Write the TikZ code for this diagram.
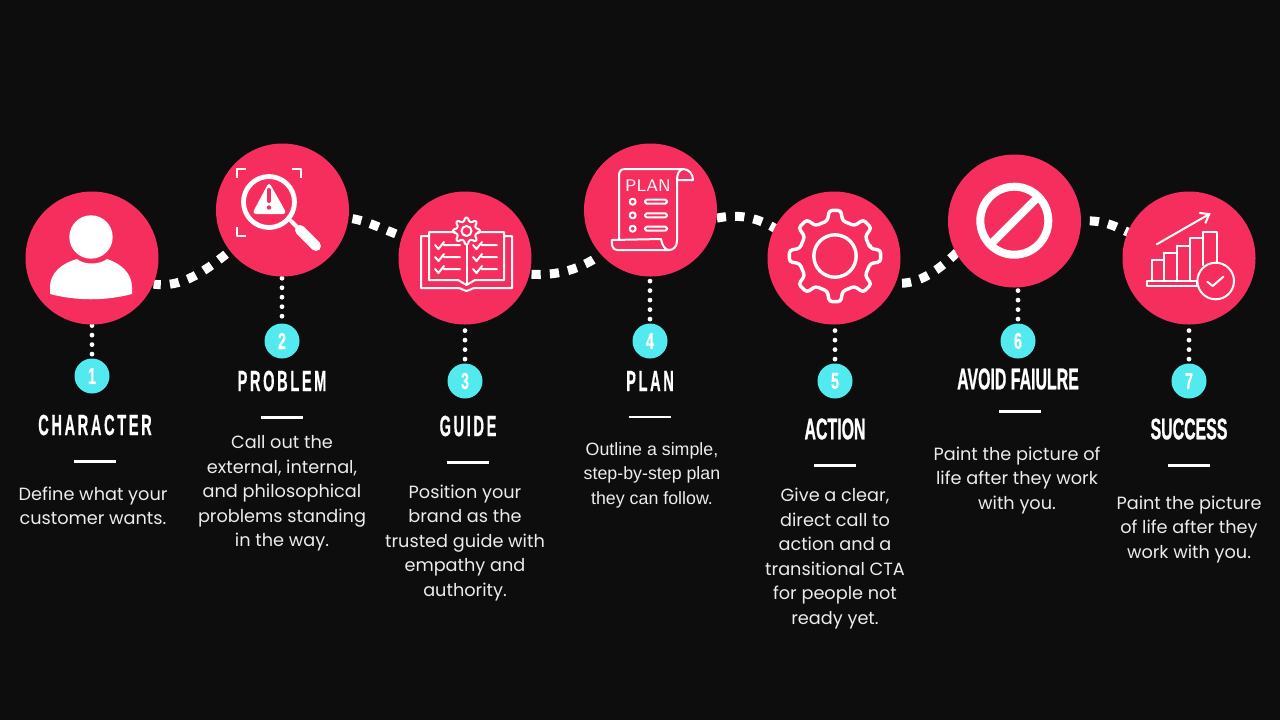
\documentclass[tikz,border=0pt]{standalone}
\usepackage{fontspec}
\usepackage{tikz}
\usetikzlibrary{positioning, arrows.meta, calc}
\setmainfont{Poppins}
\newfontfamily\headfont[FakeStretch=0.5,LetterSpace=9,FakeBold=0.4]{Liberation Sans}
\newfontfamily\plainheadfont[FakeStretch=0.53,FakeBold=0.7]{Liberation Sans}
\newfontfamily\digitfont[FakeStretch=0.62,FakeBold=0.7]{Liberation Sans}
\newfontfamily\planfont{Liberation Sans}
\definecolor{pagebg}{HTML}{0D0D0D}
\definecolor{stepred}{HTML}{F52E5D}
\definecolor{badgecyan}{HTML}{52E9EF}
\definecolor{bodywhite}{HTML}{ECECEC}
\pgfdeclarelayer{paper}
\pgfdeclarelayer{links}
\pgfsetlayers{paper,links,main}
\tikzset{
  stepdisc/.style={circle, minimum size=66.5pt, inner sep=0pt, fill=stepred},
  badge/.style={circle, minimum size=17.5pt, inner sep=0pt, fill=badgecyan, text=white, font=\digitfont\fontsize{11.5}{12}\bfseries\selectfont},
  heading/.style={inner sep=0pt, text=white, font=\headfont\fontsize{14.6}{14}\bfseries\selectfont},
  headrule/.style={rectangle, minimum width=21pt, minimum height=1.25pt, inner sep=0pt, fill=white},
  bodytext/.style={inner sep=0pt, text=bodywhite, align=center, font=\fontsize{8.85}{12.25}\selectfont, execute at begin node=\strut},
  wavy/.style={draw=white, line width=4.5pt, dash pattern=on 4.6pt off 4.6pt, shorten >=-4pt},
  dots/.style={draw=white, line width=2.4pt, line cap=round, dash pattern=on 0pt off 4.75pt, dash phase=2.75pt},
  iconline/.style={draw=white, line width=1pt, line join=round, line cap=round},
  iconsolid/.style={fill=white, draw=none}
}
% teeth of a gear: count, inner radius, outer radius, line width, corners
\newcommand{\gearteeth}[5]{
  \pgfmathsetmacro{\gearstep}{360/#1}
  \draw[iconline, line width=#4, rounded corners=#5] (-0.27*\gearstep:#2)
    \foreach \tooth in {1,...,#1}{
      -- ({(\tooth-1)*\gearstep-0.16*\gearstep}:#3) -- ({(\tooth-1)*\gearstep+0.16*\gearstep}:#3)
      -- ({(\tooth-1)*\gearstep+0.27*\gearstep}:#2) -- ({\tooth*\gearstep-0.27*\gearstep}:#2)
    } -- cycle;
}

\begin{document}
\begin{tikzpicture}[x=0.5pt, y=-0.5pt]
  \begin{pgfonlayer}{paper}
    \fill[pagebg] (0,0) rectangle (1280,720);
  \end{pgfonlayer}
  \useasboundingbox (0,0) rectangle (1280,720);

  % the seven discs
  \node (step1) [stepdisc] at (92,258) {};
  \node (step2) [stepdisc] at (282.5,210) {};
  \node (step3) [stepdisc] at (465,258) {};
  \node (step4) [stepdisc] at (650.5,210) {};
  \node (step5) [stepdisc] at (834,258) {};
  \node (step6) [stepdisc] at (1014.5,221) {};
  \node (step7) [stepdisc] at (1189,258) {};

  % number badges
  \node (badge1) [badge] at (92,376) {1};
  \node (badge2) [badge] at (282,341) {2};
  \node (badge3) [badge] at (465,381) {3};
  \node (badge4) [badge] at (650,341) {4};
  \node (badge5) [badge] at (835,381) {5};
  \node (badge6) [badge] at (1018,341) {6};
  \node (badge7) [badge] at (1189,381) {7};

  % headings, rules and texts
  \node (head1) [heading] at (95,425) {CHARACTER};
  \node (rule1) [headrule, below=12pt of head1] {};
  \node (text1) [bodytext, below=11.7pt of rule1, xshift=-1pt] {Define what your\\customer wants.};

  \node (head2) [heading] at (282,381) {PROBLEM};
  \node (rule2) [headrule, below=12pt of head2] {};
  \node (text2) [bodytext, below=8.2pt of rule2] {Call out the\\external, internal,\\and philosophical\\problems standing\\in the way.};

  \node (head3) [heading] at (468,426) {GUIDE};
  \node (rule3) [headrule, below=12pt of head3] {};
  \node (text3) [bodytext, below=10.2pt of rule3, xshift=-1.5pt] {Position your\\brand as the\\trusted guide with\\empathy and\\authority.};

  \node (head4) [heading] at (650,381) {PLAN};
  \node (rule4) [headrule, below=12pt of head4] {};
  \node (text4) [bodytext, below=11.6pt of rule4, xshift=1pt, font=\planfont\fontsize{8.9}{12.25}\selectfont] {Outline a simple,\\step-by-step plan\\they can follow.};

  \node (head5) [heading, font=\plainheadfont\fontsize{15}{15}\bfseries\selectfont] at (835,429) {ACTION};
  \node (rule5) [headrule, below=12pt of head5] {};
  \node (text5) [bodytext, below=10.2pt of rule5] {Give a clear,\\direct call to\\action and a\\transitional CTA\\for people not\\ready yet.};

  \node (head6) [heading, font=\plainheadfont\fontsize{15}{15}\bfseries\selectfont] at (1018,379) {AVOID FAIULRE};
  \node (rule6) [headrule, below=10pt of head6, xshift=1pt] {};
  \node (text6) [bodytext, below=16.6pt of rule6, xshift=-1.5pt] {Paint the picture of\\life after they work\\with you.};

  \node (head7) [heading, font=\plainheadfont\fontsize{15}{15}\bfseries\selectfont] at (1189,429) {SUCCESS};
  \node (rule7) [headrule, below=12pt of head7] {};
  \node (text7) [bodytext, below=14pt of rule7] {Paint the picture\\of life after they\\work with you.};

  % connectors, under the discs
  \begin{pgfonlayer}{links}
    \draw[wavy, dash phase=1pt] (step1.-23) .. controls +(28,4) and +(-25,21) .. (step2.218);
    \draw[wavy, dash phase=7.4pt] (step2.-7) .. controls +(18,2) and +(-18,-6) .. (step3.161);
    \draw[wavy, dash phase=8.4pt, shorten >=0pt] (step3.-14) .. controls +(28,2) and +(-20,14) .. (step4.222);
    \draw[wavy] (step4.-7) .. controls +(19,-4) and +(-17,-12) .. (step5.153);
    \draw[wavy, dash phase=6.2pt] (step5.-22) .. controls +(22,2) and +(-18,18) .. (step6.209);
    \draw[wavy, dash phase=5pt] (step6.0) .. controls +(20,-1) and +(-16,-8) .. (step7.157);

    \draw[dots] (badge1.north) -- (badge1.north |- step1.south);
    \draw[dots, dash phase=1.3pt] (badge2.north) -- (badge2.north |- step2.south);
    \draw[dots] (badge3.north) -- (badge3.north |- step3.south);
    \draw[dots] (badge4.north) -- (badge4.north |- step4.south);
    \draw[dots] (badge5.north) -- (badge5.north |- step5.south);
    \draw[dots] (badge6.north) -- (badge6.north |- step6.south);
    \draw[dots] (badge7.north) -- (badge7.north |- step7.south);
  \end{pgfonlayer}

  % person
  \fill[iconsolid] (91,237) circle (21.7);
  \fill[iconsolid] (50,293) -- (50,287) .. controls (50,273) and (62,263) .. (77,259)
    .. controls (84,265) and (99,265) .. (107,259) .. controls (120,263) and (132,273) .. (132,287)
    -- (132,294) .. controls (105,301) and (77,301) .. (50,294) -- cycle;

  % magnifier with warning sign
  \draw[iconline, line width=2.4pt] (269,202) circle (25.5);
  \fill[iconsolid, rounded corners=2pt] (269,182) -- (287,214) -- (252,214) -- cycle;
  \draw[stepred, line width=2pt, line cap=round] (269,190) -- (269,201);
  \fill[stepred] (269,207.5) circle (2.2);
  \draw[iconline, line width=2pt] (291,221) -- (299,229);
  \draw[iconline, line width=5pt] (300,230) -- (316,246);
  \draw[iconline, line cap=butt, line width=1.2pt] (237,178) -- (237,169) -- (246,169);
  \draw[iconline, line cap=butt, line width=1.2pt] (292,169) -- (301,169) -- (301,178);
  \draw[iconline, line cap=butt, line width=1.2pt] (237,227) -- (237,236) -- (246,236);

  % open book with small gear
  \draw[iconline] (429,236) -- (421,236) -- (421,288) -- (458,288) .. controls (462,288) and (463,291) .. (466.5,291)
    .. controls (470,291) and (471,288) .. (475,288) -- (512,288) -- (512,236) -- (504,236);
  \draw[iconline] (455,232) -- (429,232) -- (429,280) -- (458,280) -- (466.5,285) -- (475,280) -- (504,280) -- (504,232) -- (478,232);
  \draw[iconline] (466.5,245) -- (466.5,284);
  \begin{scope}[shift={(466.5,231)}]
    \gearteeth{8}{10}{13.5}{1pt}{0.6pt}
    \draw[iconline] (0,0) circle (5);
  \end{scope}
  \draw[iconline] (435,245) -- (438.5,249) -- (444,242) (444,245) -- (460,245);
  \draw[iconline] (435,257) -- (438.5,261) -- (444,254) (444,257) -- (460,257);
  \draw[iconline] (435,269) -- (438.5,273) -- (444,266) (444,269) -- (460,269);
  \draw[iconline] (473,245) -- (476.5,249) -- (482,242) (482,245) -- (497,245);
  \draw[iconline] (473,257) -- (476.5,261) -- (482,254) (482,257) -- (497,257);
  \draw[iconline] (473,269) -- (476.5,273) -- (482,266) (482,269) -- (497,269);

  % plan scroll
  \draw[iconline] (619,239) -- (619,176) .. controls (619,171) and (621,169) .. (625,169) -- (683,169)
    .. controls (689,169) and (693,174) .. (693,180) -- (677,180) .. controls (677,174) and (679,170) .. (683,169);
  \draw[iconline] (677,180) -- (677,241) .. controls (677,247) and (673,250) .. (669,250) -- (617,250)
    .. controls (613,250) and (611,245) .. (612,240) -- (661,239) .. controls (662,245) and (665,250) .. (669,250);
  \node (plantitle) [inner sep=0pt, text=white, font=\sffamily\fontsize{8.4}{10}\selectfont] at (648,186) {PLAN};
  \foreach \rowy in {201.7,215.3,228.7}{
    \draw[iconline] (632.7,\rowy) circle (3);
    \draw[iconline, rounded corners=0.8pt] (645,{\rowy-2}) rectangle (667,{\rowy+2});
  }

  % gear
  \begin{scope}[shift={(835,256)}]
    \gearteeth{8}{36}{46}{1.7pt}{1.5pt}
    \draw[iconline, line width=1.7pt] (0,0) circle (21.2);
  \end{scope}

  % no entry sign
  \draw[iconline, line width=4pt] (1014.3,220.7) circle (34);
  \draw[iconline, line cap=butt, line width=4pt] (990,245) -- (1038.5,196.5);

  % bar chart with check
  \draw[iconline] (1147,281) rectangle (1197,285.5);
  \draw[iconline] (1152,281) -- (1152,259.5) -- (1164,259.5) -- (1164,281);
  \draw[iconline] (1164,252.7) -- (1176.7,252.7) -- (1176.7,281);
  \draw[iconline] (1164,259.5) -- (1164,252.7);
  \draw[iconline] (1176.7,245.7) -- (1190,245.7) -- (1190,281);
  \draw[iconline] (1176.7,252.7) -- (1176.7,245.7);
  \draw[iconline] (1190,238.3) -- (1203.3,238.3) -- (1203.3,265);
  \draw[iconline] (1190,245.7) -- (1190,238.3);
  \draw[iconline] (1203.3,238.3) -- (1203.3,231.7) -- (1216.7,231.7) -- (1216.7,263);
  \draw[iconline] (1215.7,281) circle (18.3);
  \draw[iconline] (1207.3,281.7) -- (1212.7,286) -- (1223.3,276.7);
  \draw[iconline, -{Straight Barb[length=4pt,width=6pt]}] (1156.7,244.3) -- (1210.7,213.3);
\end{tikzpicture}
\end{document}
